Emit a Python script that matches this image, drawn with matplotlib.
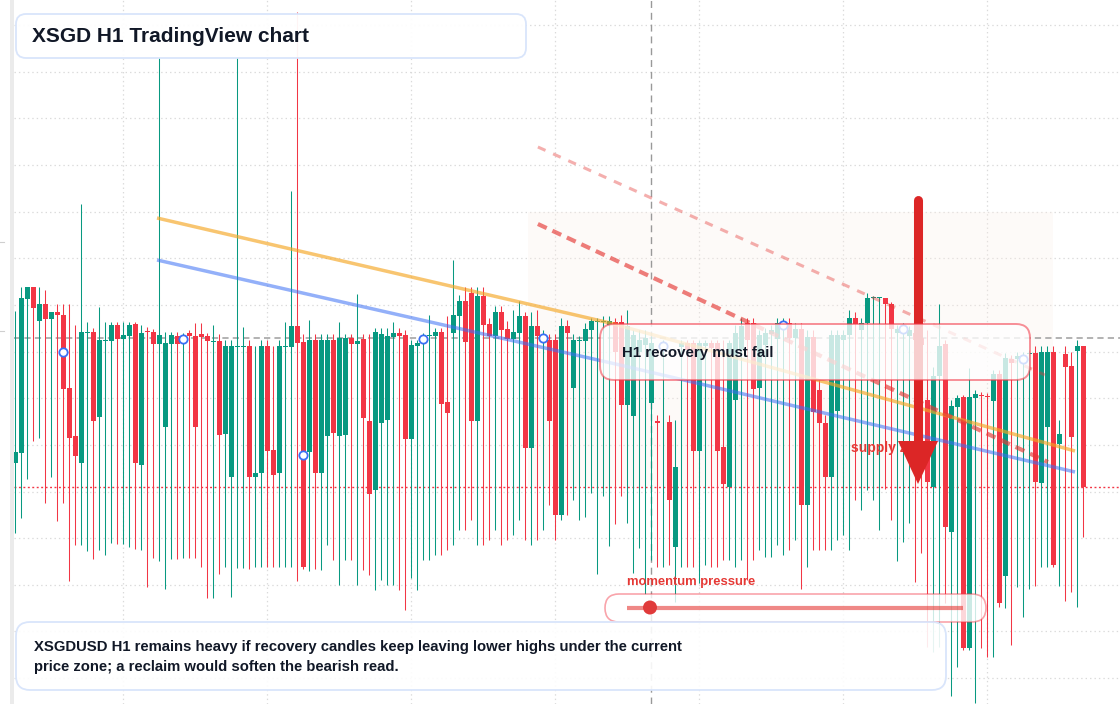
import matplotlib
matplotlib.use("Agg")
import matplotlib.pyplot as plt
from matplotlib.patches import FancyBboxPatch, Rectangle, Polygon, Circle
from matplotlib.transforms import Affine2D
import numpy as np

plt.rcParams['font.family'] = ['Liberation Sans', 'DejaVu Sans']
plt.rcParams['lines.scale_dashes'] = False

# ---------------- data (price in chart points, no axis labels shown) -------------
opens = [241, 251, 405, 417, 383, 400, 385, 392, 389, 316,
         268, 241, 371, 372, 287, 363, 363, 379, 365, 368,
         380, 239, 373, 372, 360, 277, 360, 368, 362, 371,
         368, 370, 368, 362, 363, 270, 227, 357, 357, 358,
         227, 231, 358, 254, 231, 357, 357, 378, 362, 252,
         364, 231, 268, 364, 268, 269, 366, 360, 365, 283,
         214, 281, 284, 367, 371, 369, 265, 358, 362, 368,
         368, 372, 302, 371, 388, 403, 411, 283, 408, 380,
         368, 392, 375, 365, 371, 388, 256, 378, 364, 364,
         364, 189, 378, 316, 363, 363, 374, 382, 382, 379,
         382, 382, 299, 288, 352, 359, 301, 283, 355, 282,
         157, 357, 361, 361, 253, 358, 361, 361, 257, 217,
         304, 354, 381, 381, 316, 359, 370, 365, 377, 381,
         366, 375, 199, 367, 314, 281, 227, 293, 364, 369,
         386, 374, 381, 406, 406, 406, 400, 371, 373, 368,
         371, 366, 304, 217, 328, 360, 172, 297, 307, 56,
         306, 309, 308, 303, 330, 128, 345, 345, 344, 350,
         351, 221, 277, 352, 260, 350, 338, 353, 358]
highs = [393, 417, 417, 417, 417, 414, 392, 400, 400, 400,
         379, 500, 382, 376, 397, 382, 382, 382, 382, 382,
         382, 379, 377, 375, 647, 372, 372, 372, 371, 374,
         381, 381, 371, 379, 370, 364, 364, 647, 377, 364,
         358, 364, 364, 358, 364, 382, 513, 692, 370, 384,
         370, 370, 370, 370, 382, 370, 370, 410, 370, 370,
         376, 376, 376, 382, 376, 374, 364, 364, 371, 389,
         376, 376, 388, 444, 409, 417, 417, 417, 417, 386,
         398, 398, 383, 394, 403, 392, 392, 394, 374, 370,
         370, 386, 384, 370, 368, 381, 386, 386, 388, 388,
         386, 389, 394, 374, 374, 374, 368, 289, 364, 289,
         284, 364, 364, 364, 364, 364, 364, 364, 364, 364,
         379, 386, 386, 386, 374, 376, 379, 386, 386, 386,
         381, 381, 374, 374, 324, 289, 374, 374, 374, 394,
         392, 386, 411, 408, 407, 406, 402, 379, 381, 378,
         376, 374, 374, 337, 400, 364, 304, 309, 309, 336,
         314, 312, 311, 334, 334, 351, 349, 352, 352, 354,
         358, 358, 358, 358, 284, 358, 352, 364, 358]
lows = [171, 186, 225, 263, 266, 201, 227, 183, 201, 123,
        159, 159, 153, 145, 154, 149, 161, 160, 160, 157,
        155, 154, 117, 146, 143, 115, 145, 145, 146, 146,
        146, 137, 106, 106, 130, 137, 107, 136, 136, 135,
        137, 137, 137, 137, 137, 137, 137, 123, 135, 133,
        135, 134, 159, 144, 119, 144, 144, 119, 134, 129,
        114, 124, 119, 119, 114, 94, 126, 114, 144, 144,
        149, 149, 154, 159, 174, 174, 184, 159, 159, 164,
        174, 159, 164, 169, 184, 164, 159, 164, 174, 199,
        164, 184, 189, 204, 184, 187, 211, 130, 208, 158,
        180, 208, 181, 131, 156, 110, 144, 137, 137, 139,
        102, 137, 137, 137, 121, 139, 137, 137, 144, 144,
        137, 144, 124, 144, 154, 147, 147, 159, 149, 154,
        164, 115, 137, 154, 154, 154, 154, 164, 169, 154,
        204, 194, 214, 204, 174, 215, 184, 143, 162, 181,
        122, 151, 57, 52, 57, 101, 8, 37, 54, 54,
        1, 56, 47, 47, 97, 96, 59, 117, 87, 115,
        118, 137, 137, 137, 118, 103, 112, 97, 167]
closes = [252, 406, 417, 396, 400, 385, 392, 389, 315, 266,
          248, 372, 372, 283, 364, 364, 379, 365, 369, 379,
          241, 371, 372, 360, 369, 361, 369, 360, 368, 368,
          277, 367, 363, 363, 269, 358, 358, 358, 358, 227,
          231, 358, 253, 229, 358, 358, 378, 361, 137, 364,
          231, 364, 364, 271, 366, 366, 360, 363, 286, 210,
          372, 370, 368, 371, 368, 265, 359, 361, 368, 369,
          372, 300, 291, 389, 403, 362, 283, 408, 379, 368,
          392, 374, 365, 372, 388, 256, 378, 368, 368, 283,
          189, 378, 371, 364, 364, 375, 383, 383, 383, 383,
          352, 299, 378, 369, 364, 366, 361, 281, 361, 204,
          237, 361, 354, 253, 361, 361, 356, 253, 220, 361,
          371, 378, 364, 315, 369, 371, 374, 381, 381, 366,
          375, 199, 367, 292, 281, 227, 369, 369, 369, 386,
          380, 381, 406, 407, 407, 400, 375, 375, 377, 374,
          364, 359, 222, 328, 358, 177, 298, 306, 56, 307,
          310, 308, 307, 330, 101, 346, 341, 348, 347, 351,
          222, 352, 352, 139, 270, 337, 267, 358, 217]

# annotation levels / trend lines (candle index, price points)
orange_idx = [23.62, 99.12, 176.62]
orange_px = [486, 381, 253]
blue_idx = [23.62, 100.78, 176.62]
blue_px = [444, 339, 232]
res_idx = [87.1, 172.1]
res_px = [480, 242]
res2_idx = [87.1, 171.6]
res2_px = [557, 329]
last_price = 366
support_level = 217.5
cursor_idx = 105.9
zone_idx = (85.45, 172.95)
zone_px = (218, 492)
marker_idx = list(range(8, 179, 20))

title = "XSGD H1 TradingView chart"
callout = "H1 recovery must fail"
zone_label = "supply zone"
momentum_label = "momentum pressure"
note_lines = ["XSGDUSD H1 remains heavy if recovery candles keep leaving lower highs under the current",
              "price zone; a reclaim would soften the bearish read."]

GREEN = '#089981'
RED = '#f23645'
INK = '#111827'

# ---------------- figure ----------------
W, H = 1120, 704
fig = plt.figure(figsize=(W / 100, H / 100), dpi=100)
fig.patch.set_facecolor('white')
ax = fig.add_axes([14 / W, 0, (W - 14) / W, 1])
ax.set_xlim((14 - 15.3) / 6, (W - 15.3) / 6)
ax.set_ylim(0, 704)
ax.set_facecolor('white')
for s in ax.spines.values():
    s.set_visible(False)
ax.tick_params(left=False, bottom=False, labelleft=False, labelbottom=False)

# pixel transform (x right, y down from top of figure)
pix = Affine2D().scale(1 / W, -1 / H).translate(0, 1) + fig.transFigure

# grid
gy = [679 - 46.65 * k for k in range(15)]
gx = [17.95 + 24 * k for k in range(7)]
for y in gy:
    ax.axhline(y, color='#dadada', lw=0.9, ls=(0, (1, 2.2)), zorder=0)
for x in gx:
    ax.axvline(x, color='#dadada', lw=0.9, ls=(0, (1, 2.2)), zorder=0)

# supply zone shading
ax.add_patch(Rectangle((zone_idx[0], zone_px[0]), zone_idx[1] - zone_idx[0], zone_px[1] - zone_px[0],
                       facecolor='#fbefe8', alpha=0.3, edgecolor='none', zorder=0.5))

# reference lines
ax.axhline(last_price, color='#9e9e9e', lw=1.1, ls=(0, (4.5, 3)), zorder=1)
ax.axhline(support_level, color=RED, lw=1.0, ls=(0, (1.4, 1.8)), zorder=1)
ax.axvline(cursor_idx, color='#999999', lw=1.0, ls=(0, (5, 3.5)), zorder=1)

# candles
idx = np.arange(len(opens))
o = np.array(opens, float); c = np.array(closes, float)
h = np.array(highs, float); l = np.array(lows, float)
cols = [GREEN if cc >= oo else RED for oo, cc in zip(o, c)]
wicks = ax.vlines(idx, l, h, colors=cols, lw=0.75, zorder=2)
wicks.set_snap(True)
bottoms = np.minimum(o, c)
heights = np.maximum(np.abs(c - o), 1.3)
ax.bar(idx, heights, bottom=bottoms, width=0.82, color=cols, linewidth=0, zorder=2.1, antialiased=False)

# trend lines
ax.plot(orange_idx, orange_px, color='#f5a623', alpha=0.65, lw=2.5, zorder=3, solid_capstyle='butt')
ax.plot(blue_idx, blue_px, color='#3b6ff5', alpha=0.55, lw=2.5, zorder=3, solid_capstyle='butt')
ax.plot(res_idx, res_px, color='#e53935', alpha=0.65, lw=3.0, ls=(0, (7, 4.5)), zorder=3)
ax.plot(res2_idx, res2_px, color='#e53935', alpha=0.40, lw=2.2, ls=(0, (6, 6)), zorder=3)

# markers
mid = [(opens[i] + closes[i]) / 2 for i in marker_idx]
ax.plot(marker_idx, mid, 'o', ms=6, mfc='white', mec='#3b6ff5', mew=1.3, zorder=4, ls='none')

# supply zone label
ax.text(851, 448, zone_label, transform=pix, color='#e53935', fontsize=10, fontweight='bold',
        va='center', ha='left', zorder=4.2)

# arrow
ax.plot([918, 918], [200, 445], transform=pix, color='#dc2626', lw=6.5, solid_capstyle='round', zorder=4.5)
ax.add_patch(Polygon([(898, 441), (938, 441), (918, 484)], closed=True, transform=pix,
                     facecolor='#dc2626', edgecolor='none', zorder=4.6))

# callout box
ax.add_patch(FancyBboxPatch((600, 324), 430, 56, boxstyle='round,pad=0,rounding_size=14', transform=pix,
                            facecolor=(1, 1, 1, 0.78), edgecolor=(0.95, 0.21, 0.27, 0.55), lw=1.4, zorder=5))
ax.text(622, 353, callout, transform=pix, color=INK, fontsize=10.8, fontweight='bold', va='center', zorder=6)

# momentum pill
ax.text(627, 582, momentum_label, transform=pix, color='#e53935', fontsize=9.4, fontweight='bold',
        va='center', zorder=6)
ax.add_patch(FancyBboxPatch((605, 594), 381, 28, boxstyle='round,pad=0,rounding_size=14', transform=pix,
                            facecolor=(1, 1, 1, 0.8), edgecolor=(0.95, 0.21, 0.27, 0.45), lw=1.2, zorder=5))
ax.plot([627, 963], [607.5, 607.5], transform=pix, color='#e53935', alpha=0.6, lw=3, zorder=5.5,
        solid_capstyle='butt')
ax.add_patch(Circle((650, 607.5), 7, transform=pix, facecolor='#e03a3a', edgecolor='none', zorder=5.6))

# bottom note box
ax.add_patch(FancyBboxPatch((16, 622), 930, 68, boxstyle='round,pad=0,rounding_size=14', transform=pix,
                            facecolor=(1, 1, 1, 0.9), edgecolor='#d9e5fb', lw=1.3, zorder=5))
ax.text(34, 647, note_lines[0], transform=pix, color=INK, fontsize=10.75, fontweight='bold', va='center', zorder=6)
ax.text(34, 667, note_lines[1], transform=pix, color=INK, fontsize=10.75, fontweight='bold', va='center', zorder=6)

# title box
ax.add_patch(FancyBboxPatch((16, 14), 510, 44, boxstyle='round,pad=0,rounding_size=10', transform=pix,
                            facecolor=(1, 1, 1, 0.95), edgecolor='#d9e5fb', lw=1.3, zorder=5))
ax.text(32, 36, title, transform=pix, color=INK, fontsize=15, fontweight='bold', va='center', zorder=6)

# left strip and tiny marks
fig.patches.append(Rectangle((10, 0), 4, 704, transform=pix, facecolor='#ebebeb', edgecolor='none'))
for yy in (242, 331):
    fig.lines.append(plt.Line2D([0, 4], [yy, yy], transform=pix, color='#cfcfcf', lw=0.8))

fig.savefig('out.png', dpi=100, facecolor='white')
